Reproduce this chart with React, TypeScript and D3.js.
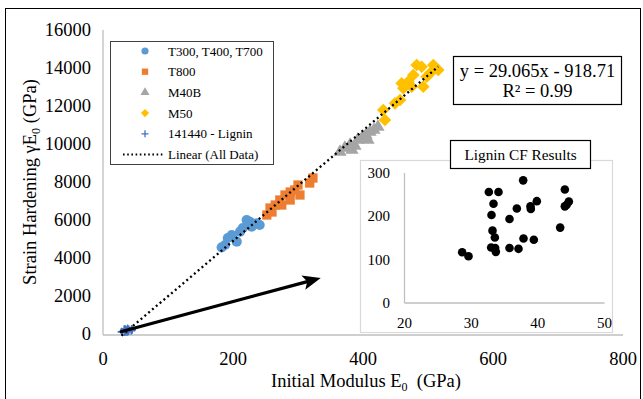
import * as d3 from 'd3';

// Initial modulus E0 (GPa) and strain hardening gammaE0 (GPa)
const t300X = [182.6, 187.7, 192, 198, 205.7, 210.8, 215, 221, 226, 228.8, 236.5, 241];
const t300Y = [4563, 4684, 5052, 5210, 4858, 5384, 5579, 6000, 5900, 5647, 5826, 5737];

const t800X = [252, 257, 260, 265, 272, 275, 280, 288, 288, 295, 300, 303, 318, 323];
const t800Y = [6263, 6632, 6421, 6789, 7053, 6789, 7316, 7474, 7053, 7579, 7842, 7316, 7947, 8210];

const m40bX = [364.6, 372, 380, 383, 387.7, 392, 398.5, 404.6, 407.7, 410.8, 416.9, 423];
const m40bY = [9579, 9789, 9947, 9684, 9895, 10210, 10316, 10474, 10210, 10632, 10737, 10895];

const m50X = [431.2, 433.8, 449.2, 457, 459.5, 462, 469.7, 474.9, 477.4, 482.6, 490.3, 492.8, 498, 503, 508.2, 515.8];
const m50Y = [11789, 11263, 12142, 12316, 13195, 12932, 13279, 13016, 13632, 14158, 14068, 13016, 13542, 13721, 14158, 13895];

// Lignin CF results (also plotted as "141440 - Lignin")
const ligninX = [28.65, 29.6, 32.65, 34.1, 33.35, 33.05, 33.2, 33.55, 33.0, 33.6, 33.7, 35.75, 37.1, 35.75, 36.85, 37.8, 38.9, 38.95, 39.85, 37.85, 39.4, 43.35, 44.05, 44.05, 44.65, 44.3];
const ligninY = [117, 108, 256, 256, 229, 203, 167, 151, 128, 127, 118, 127, 125, 194, 218, 283, 223, 217, 235, 149, 146, 174, 262, 223, 234, 226];

const slope = 29.065;
const intercept = -918.71;

const xTicks = [0, 200, 400, 600, 800];
const yTicks = [0, 2000, 4000, 6000, 8000, 10000, 12000, 14000, 16000];
const insetXTicks = [20, 30, 40, 50];
const insetYTicks = [0, 100, 200, 300];

const legendLabels = ['T300, T400, T700', 'T800', 'M40B', 'M50', '141440 - Lignin', 'Linear (All Data)'];

const zip = (xs: number[], ys: number[]) => xs.map((v, i) => [v, ys[i]] as [number, number]);

const font = '"Liberation Serif", "Times New Roman", serif';
const colors = {blue: '#5B9BD5', orange: '#ED7D31', gray: '#A5A5A5', yellow: '#FFC000', plus: '#4472C4'};

const circle = d3.symbol(d3.symbolCircle, 82)();
const square = d3.symbol(d3.symbolSquare, 86)();
const triangle = d3.symbol(d3.symbolTriangle, 76)();
const diamond = d3.symbol(d3.symbolSquare, 80)();
const plus = 'M-4,0H4M0,-4V4';

export default function App() {
    const x = d3.scaleLinear().domain([0, 800]).range([103, 623]);
    const y = d3.scaleLinear().domain([0, 16000]).range([334, 30]);
    const ix = d3.scaleLinear().domain([20, 50]).range([404.5, 604.5]);
    const iy = d3.scaleLinear().domain([0, 300]).range([303, 173]);

    const allX = [...t300X, ...t800X, ...m40bX, ...m50X, ...ligninX];
    const [xMin, xMax] = d3.extent(allX) as [number, number];
    const trend = d3.line<number>().x(d => x(d)).y(d => y(slope * d + intercept));

    // annotation arrow, in data units of the main chart
    const a0 = [26, 105], a1 = [335, 2950];
    const ax0 = x(a0[0]), ay0 = y(a0[1]), ax1 = x(a1[0]), ay1 = y(a1[1]);
    const ang = Math.atan2(ay1 - ay0, ax1 - ax0) * 180 / Math.PI;

    const series = [
        {pts: zip(t300X, t300Y), d: circle, fill: colors.blue, rot: 0},
        {pts: zip(t800X, t800Y), d: square, fill: colors.orange, rot: 0},
        {pts: zip(m40bX, m40bY), d: triangle, fill: colors.gray, rot: 0},
        {pts: zip(m50X, m50Y), d: diamond, fill: colors.yellow, rot: 45},
    ];

    const legendY = (i: number) => 51 + i * 20.7;

    return (
        <svg width={643} height={399} style={{position: 'absolute', left: 0, top: 0, fontFamily: font}}>
            <rect x={0} y={0} width={643} height={399} fill="#fff"/>
            <rect x={5.5} y={8.5} width={635} height={420} fill="none" stroke="#000" strokeWidth={1}/>

            {/* main axes */}
            <line x1={x(0)} x2={x(0)} y1={y(16000)} y2={y(0) + 1} stroke="#BFBFBF" strokeWidth={1.3}/>
            <line x1={x(0)} x2={x(800)} y1={y(0) + 1} y2={y(0) + 1} stroke="#BFBFBF" strokeWidth={1.3}/>
            {yTicks.map(t => (
                <text key={t} x={91} y={y(t)} dy="0.33em" textAnchor="end" fontSize={18.5}>{t}</text>
            ))}
            {xTicks.map(t => (
                <text key={t} x={x(t)} y={365} textAnchor="middle" fontSize={18.5}>{t}</text>
            ))}
            <text x={366} y={387} textAnchor="middle" fontSize={18.5}>
                Initial Modulus E<tspan fontSize={12} dy={4}>0</tspan><tspan dy={-4} xmlSpace="preserve">  (GPa)</tspan>
            </text>
            <text transform={`translate(36,182) rotate(-90)`} textAnchor="middle" fontSize={18.5}>
                Strain Hardening γE<tspan fontSize={12} dy={4}>0</tspan><tspan dy={-4}> (GPa)</tspan>
            </text>

            {/* data */}
            {series.map((s, si) => (
                <g key={si}>
                    {s.pts.map(([px, py], i) => (
                        <path key={i} d={s.d} fill={s.fill}
                              transform={`translate(${x(px)},${y(py)}) rotate(${s.rot})`}/>
                    ))}
                </g>
            ))}
            {zip(ligninX, ligninY).map(([px, py], i) => (
                <path key={i} d={plus} stroke={colors.plus} strokeWidth={1.4}
                      transform={`translate(${x(px)},${y(py)})`}/>
            ))}
            <path d={trend([xMin, xMax]) ?? ''} fill="none" stroke="#000" strokeWidth={2.3}
                  strokeDasharray="2 3"/>

            {/* arrow */}
            <line x1={ax0} y1={ay0} x2={ax1 - 12 * Math.cos(ang * Math.PI / 180)}
                  y2={ay1 - 12 * Math.sin(ang * Math.PI / 180)} stroke="#000" strokeWidth={3.3}/>
            <path d="M0,0L-18,-7.5L-14,0L-18,7.5Z" fill="#000" transform={`translate(${ax1},${ay1}) rotate(${ang})`}/>

            {/* legend */}
            <rect x={110.5} y={41.5} width={163} height={123} fill="#fff" stroke="#404040" strokeWidth={1}/>
            {legendLabels.map((l, i) => (
                <text key={l} x={168} y={legendY(i)} dy="0.35em" fontSize={13}>{l}</text>
            ))}
            <path d={d3.symbol(d3.symbolCircle, 40)()} fill={colors.blue} transform={`translate(145,${legendY(0)})`}/>
            <path d={d3.symbol(d3.symbolSquare, 40)()} fill={colors.orange} transform={`translate(145,${legendY(1)})`}/>
            <path d={d3.symbol(d3.symbolTriangle, 36)()} fill={colors.gray} transform={`translate(145,${legendY(2)})`}/>
            <path d={d3.symbol(d3.symbolSquare, 34)()} fill={colors.yellow} transform={`translate(145,${legendY(3)}) rotate(45)`}/>
            <path d="M-3.5,0H3.5M0,-3.5V3.5" stroke={colors.plus} strokeWidth={1.3} transform={`translate(145,${legendY(4)})`}/>
            <line x1={123} x2={164} y1={legendY(5)} y2={legendY(5)} stroke="#000" strokeWidth={1.8} strokeDasharray="1.6 2.6"/>

            {/* equation */}
            <rect x={453.5} y={56.5} width={168} height={48} fill="#fff" stroke="#000" strokeWidth={1.2}/>
            <text x={537.5} y={77} textAnchor="middle" fontSize={18.5}>y = 29.065x - 918.71</text>
            <text x={537.5} y={97} textAnchor="middle" fontSize={18.5}>R² = 0.99</text>

            {/* inset */}
            <rect x={360.5} y={160.5} width={252} height={172} fill="#fff" stroke="#D9D9D9" strokeWidth={1.2}/>
            <line x1={ix(20)} x2={ix(20)} y1={iy(300)} y2={iy(0)} stroke="#BFBFBF" strokeWidth={1.3}/>
            <line x1={ix(20)} x2={ix(50)} y1={iy(0)} y2={iy(0)} stroke="#BFBFBF" strokeWidth={1.3}/>
            {insetYTicks.map(t => (
                <text key={t} x={390} y={iy(t)} dy="0.33em" textAnchor="end" fontSize={15}>{t}</text>
            ))}
            {insetXTicks.map(t => (
                <text key={t} x={ix(t)} y={327.5} textAnchor="middle" fontSize={15}>{t}</text>
            ))}
            {zip(ligninX, ligninY).map(([px, py], i) => (
                <circle key={i} cx={ix(px)} cy={iy(py)} r={4.3} fill="#000"/>
            ))}
            <rect x={450.5} y={140.5} width={140} height={28} fill="#fff" stroke="#000" strokeWidth={1.2}/>
            <text x={520.5} y={160} textAnchor="middle" fontSize={15.3}>Lignin CF Results</text>
        </svg>
    );
}
